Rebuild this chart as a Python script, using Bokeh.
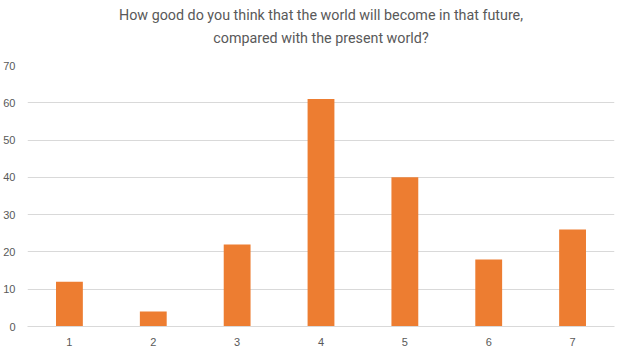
from bokeh.plotting import figure
from bokeh.models import Range1d, FactorRange, FixedTicker, Title, ColumnDataSource
from bokeh.embed import file_html
from bokeh.resources import INLINE

categories = ["1", "2", "3", "4", "5", "6", "7"]
counts = [12, 4, 22, 61, 40, 18, 26]
y_ticks = [0, 10, 20, 30, 40, 50, 60, 70]
title_lines = ["How good do you think that the world will become in that future,",
               "compared with the present world?"]

src = ColumnDataSource(dict(x=categories, top=counts))

p = figure(x_range=FactorRange(*categories, range_padding=0),
           y_range=Range1d(0, 70),
           frame_width=587, frame_height=261,
           output_backend="svg", toolbar_location=None,
           min_border_left=0, min_border_right=8, min_border_top=0, min_border_bottom=0)
p.title = None
# first added title sits nearest the plot frame; a blank one acts as spacer
title_style = dict(align="center", text_font="Roboto", text_font_size="14.3px",
                   text_font_style="normal", text_color="#595959", offset=0)
p.add_layout(Title(text=" ", standoff=0, **title_style), "above")
for line, sd in zip(reversed(title_lines), [3, 8]):
    p.add_layout(Title(text=line, standoff=sd, **title_style), "above")

p.vbar(x="x", top="top", width=0.32, source=src, color="#ED7D31", line_color=None)

p.outline_line_color = None
p.xgrid.grid_line_color = None
p.ygrid.grid_line_color = "#D9D9D9"
p.ygrid.grid_line_width = 1
p.yaxis.ticker = FixedTicker(ticks=y_ticks)
p.yaxis.axis_line_color = None
p.yaxis.major_tick_line_color = None
p.yaxis.minor_tick_line_color = None
p.yaxis.major_label_standoff = 6
p.xaxis.axis_line_color = "#D9D9D9"
p.xaxis.major_tick_line_color = None
p.xaxis.major_label_standoff = 5
for ax in (p.xaxis, p.yaxis):
    ax.major_label_text_font = "Liberation Sans"
    ax.major_label_text_font_size = "11px"
    ax.major_label_text_color = "#595959"

open("out.html", "w").write(file_html(p, INLINE))
